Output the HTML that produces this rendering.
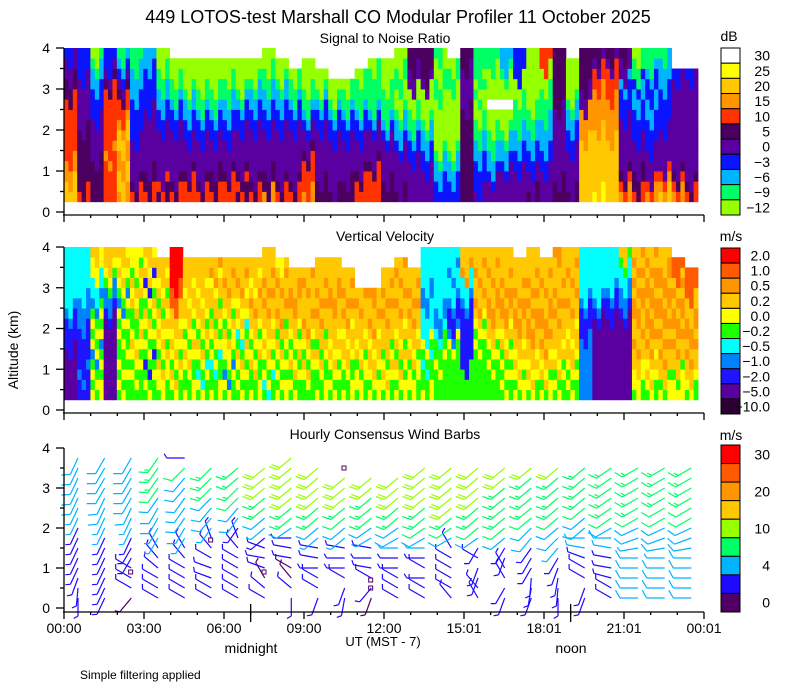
<!DOCTYPE html>
<html><head><meta charset="utf-8"><style>
html,body{margin:0;padding:0;background:#fff;}
svg{display:block;font-family:"Liberation Sans",sans-serif;}
</style></head><body>
<svg id="chart" width="800" height="700" viewBox="0 0 800 700" xmlns="http://www.w3.org/2000/svg">
<text x="398" y="23" font-size="18" text-anchor="middle">449 LOTOS-test Marshall CO Modular Profiler 11 October 2025</text>
<text x="385" y="43" font-size="14" text-anchor="middle">Signal to Noise Ratio</text>
<text x="385" y="241" font-size="14" text-anchor="middle">Vertical Velocity</text>
<text x="385" y="439" font-size="14" text-anchor="middle">Hourly Consensus Wind Barbs</text>
<text x="18" y="350" font-size="14" text-anchor="middle" transform="rotate(-90 18 350)">Altitude (km)</text>
<text x="729" y="41" font-size="14" text-anchor="middle">dB</text>
<text x="731" y="241" font-size="14" text-anchor="middle">m/s</text>
<text x="731" y="440" font-size="14" text-anchor="middle">m/s</text>
<text x="383" y="646" font-size="13" text-anchor="middle">UT  (MST - 7)</text>
<text x="251" y="653" font-size="14" text-anchor="middle">midnight</text>
<text x="571" y="653" font-size="14" text-anchor="middle">noon</text>
<text x="80" y="679" font-size="12">Simple filtering applied</text>
<g id="g"></g>
</svg>
<script>
// ---------- data ----------
const snrClasses = ['L','G','C','B','P','D','R','O','A','Y'];
const snrColors = ['#96ff00','#00ff64','#00b4ff','#0a14ff','#5a00a0','#4b0060','#ff3200','#ff9600','#ffc800','#ffff00','#ffffff'];
const snrTicks = ['30','25','20','15','10','5','0','-3','-6','-9','-12'];
const snrCols = [
"AAOORRRRRRDDPPB","RDDDDDDPPPPPBBB","DDDDPPPPBBBCCGL","RRRRORRRRRRDPBB","OAAOOAAORRDPBCG","RDPPPPBBBBCCCGG",
"RDDPPPPPPBBBBCC","DRPPPPPBBCCGGLL","RDPPPPPBBCGGLL.","RRDPPPBBCCGLLL.","RDPPPPBBCGGLLL.","RDDPPPBBCGGLLL.",
"RRDPPPBBCCGGLL.","DRDPPPPBBCGLLL.","RDPPPPPBBCCGLL.","ODDPPPPBBCCGGLL","RDPPPPPBBCCGLL.","RDPPPPPBBCGGL..",
"ORRRDPPBCGGLLL.","DDPPPPPBBCGLL..","DPPPPPBBCGLL...","DDPPPPBBCGGL...","RRDPPPBBCGGGL..","RRRDPPPBCGGGGL.",
"DDPPPPBCGGGLLL.","DPPPPBCCGLLGGLL","PPPPBBCGGLLPPDD","PPPBBCCGLLLPDDD","BBCCGLLLLLGGLLG","BBCCGLLLLLLGGL.",
"DDDDDDDDDPPPPDD","PBBBCCGGLLGLGGG","PPBCCGGLL.LLLGG","PPPBCCGLL.LLGCC","PPPBBCCGGGLLBBB","DPPBBCCGGLLLLLL",
"PPPBBCCCGGGLLRR","DDPPPPPPPDDDDDD","DPPPPBBCCGLLLL.","AAAAAAOOOPPDDDD","YAAAAAAOOOORRPD","AAAAAAOOOORRRPD",
"ORDPPPPPBBBCPPD","RDDPPPBBBCCBGGL","ORPPPBBBCCBBCGG","AORPPPPBBBBCCCG","ORDPPPPPPPPPB..","RDPPPPPPPPPPB.."];
const velClasses = ['K','V','N','M','C','G','Y','A','O','Q','R'];
const velColors = ['#2d0032','#5a00a0','#1e14ff','#0082ff','#00ffff','#1eff00','#ffff00','#ffc800','#ff9600','#ff5a00','#ff0000'];
const velTicks = ['2.0','1.0','0.5','0.2','0.0','-0.2','-0.5','-1.0','-2.0','-5.0','-10.0'];
const velCols = [
"VVVVVNNNMCCCCCC","NNMNNNNMMMCCCCC","YGYGMYGYGMCCYYA","VVVVVVVVNMMGYAA","GYGYGGYGYMGYAYA","GGYGYAYGGAYAGYY",
"GYGNGYGYAGYNAYA","GYYAGYAYAGAYAA.","GYAGYAYAAQQRRRR","YGGYAYGYAAYAAA.","GYCGYAGYAAYAAA.","YGGCYGYAGAAYOA.",
"GYMGYYAGYAAOAA.","GYGYAGCYAYAOAA.","YGGAYGYAAOAYAA.","GCYGYAYAAOAOAAA","YGYGYAGAOAAOAY.","GYGAYGYAAOOAA..",
"GGYAGYAOAAAOA..","YGGYAGAAOAOAAA.","GYGYAYAAAOOAAA.","YGGYAAYAOAOAA..","GYYGAYAAAOA....","YGYAAYAOAAO....",
"GYAYGAAAOAOAA..","YGYAGAYAAOAAOA.","GYYGAYAAOAOAA..","YGGCGYCCCMMCCCC","GGGYGGCMMCCCCCC","GGGGGYMNNMCCMCC",
"GGGNNNNNNMCCOAA","GGGGGYGYAOAAOAA","GGGYGYAAOOAAOAA","GYGYGAYAOOAOAAA","YGYAYAAOOAOAAA.","GYAYAAOOAOAOAAA",
"YGAYAOAOOAAOAA.","GYGAYAAAOAOAAAO","GYGYAAYAAOAAOAA","MMMMMMNNNMCCCCC","VVVVVVVVNMCCCCC","VVVVVVVVNNMCCCC",
"VVVVVVVVNMMCCGA","GYYAAOAAOOAOAOA","GYAYAOAOOAOOAOA","YGAAOAOAOOAOOAA","YYGAAOAOOAOAQQ.","GYAAOAOOAAQQQ.."];
const windLevels = [0.25,0.5,0.75,1.0,1.25,1.5,1.75,2.0,2.25,2.5,2.75,3.0,3.25,3.5,3.75];
const windSpd = [
[2,2,2,3,3,3,3,3,4,4,5,5,5,6,6],[3,3,3,3,3,3,3,4,4,5,5,5,5,6,6],[1,2,2,2,3,3,3,4,4,5,5,5,6,6,6],
[2,2,2,2,3,3,4,4,5,5,6,7,8,8,8],[2,2,2,3,3,3,4,5,5,5,6,6,6,7,3],[3,3,3,2,2,3,3,4,5,6,6,8,8,8,-1],
[2,2,2,2,3,3,3,3,5,6,7,8,8,9,-1],[2,2,1,2,3,3,3,4,6,8,9,10,11,11,-1],[2,2,1,1,2,3,3,6,8,9,10,11,12,12,12],
[2,2,2,3,3,3,4,6,8,9,11,11,12,12,-1],[2,2,2,3,3,3,4,6,7,9,10,11,11,-1,-1],[1,2,2,2,3,3,4,6,8,9,9,10,11,-1,-1],
[2,2,2,3,3,4,5,6,8,9,10,11,11,-1,-1],[2,2,3,3,3,4,5,7,8,9,10,11,11,11,-1],[2,2,3,2,2,3,5,7,9,10,11,11,11,11,-1],
[2,2,2,2,2,3,5,7,9,9,10,10,11,11,-1],[2,2,2,2,3,3,5,7,8,9,9,9,10,10,-1],[2,2,3,3,3,3,5,6,7,8,9,9,9,10,-1],
[3,3,3,3,3,4,5,6,7,8,8,9,9,10,-1],[2,3,3,3,3,4,4,5,6,7,8,8,8,9,-1],[3,3,3,3,3,4,5,6,7,8,8,9,9,9,-1],
[5,5,5,5,5,4,5,6,7,8,8,9,9,9,-1],[5,5,5,5,4,5,5,6,7,7,8,8,9,9,-1],[5,5,5,5,5,5,5,6,7,7,8,8,8,8,-1]];
const windDir = [
[180,185,200,205,205,205,205,205,205,205,205,205,205,205,205],[205,205,205,205,205,205,205,205,205,205,205,210,210,210,210],
[220,300,300,300,210,210,205,205,205,205,210,210,210,210,210],[300,300,300,310,320,330,210,210,210,210,215,215,215,215,215],
[300,300,300,300,320,330,210,210,215,215,215,220,220,225,270],[300,300,290,290,300,320,340,215,220,220,225,225,225,225,0],
[300,300,300,300,300,320,340,215,215,220,225,225,230,230,0],[300,310,330,290,280,290,230,230,230,230,230,230,230,230,0],
[180,310,320,300,280,280,270,235,230,230,230,230,230,230,230],[200,300,300,270,280,280,230,230,230,230,230,230,230,230,0],
[190,200,300,270,270,280,230,230,230,230,230,230,230,0,0],[200,220,300,280,270,280,240,235,230,230,230,230,230,0,0],
[300,300,300,270,270,270,240,235,230,230,230,230,230,0,0],[300,300,270,300,270,270,240,235,230,230,230,230,230,230,0],
[320,300,300,300,300,330,240,235,230,230,230,230,230,230,0],[330,320,200,200,300,210,235,230,230,230,230,230,230,230,0],
[200,210,330,330,200,210,230,230,230,230,230,230,230,230,0],[200,190,185,210,210,215,220,225,230,230,230,230,230,230,0],
[180,185,190,200,210,220,225,230,230,230,230,230,230,230,0],[200,200,300,300,290,280,270,230,230,230,230,230,230,230,0],
[300,300,285,280,280,280,270,240,235,235,235,235,235,235,0],[270,270,270,270,270,260,250,245,240,240,240,240,240,240,0],
[270,270,270,270,270,260,250,245,240,240,240,240,240,240,0],[270,270,270,270,270,260,250,245,240,240,240,240,240,240,0]];
const windBins = [2,4,7,10,15,20,25,30];
const windColors = ['#500064','#1e0aff','#00b4ff','#00ff64','#96ff00','#ffc800','#ff9600','#ff5a00','#ff0000'];
const windTickLabels = ['30','20','10','4','0'];
const windTickCells = [0,2,4,6,8];
const markerHours = [2.5,5.5,7.5,10.5,11.5,11.5];
const markerHeights = [0.9,1.7,0.9,3.5,0.7,0.5];
const timeLabels = ['00:00','03:00','06:00','09:00','12:00','15:01','18:01','21:01','00:01'];

// ---------- layout ----------
const NS='http://www.w3.org/2000/svg';
const g=document.getElementById('g');
const X0=64, X1=704;
const xT=h=>X0+(X1-X0)*h/24;
const panels=[{z:212,t:48,ax:215},{z:410,t:247,ax:413},{z:608,t:448,ax:612}];
const yP=(p,km)=>p.z-(p.z-p.t)*km/4;
function mk(tag,attrs,parent){const e=document.createElementNS(NS,tag);for(const k in attrs)e.setAttribute(k,attrs[k]);(parent||g).appendChild(e);return e;}

// heatmaps: each column split in 3 sub-stripes mixing adjacent range gates for texture
function heat(cols,classes,colors,p,name){
  const grp=mk('g',{});
  
  
  const n=cols.length, w=(698-X0)/n, sw=w/3, shifts=[0,1,-1];
  cols.forEach((s,ci)=>{
    for(let sub=0;sub<3;sub++){
      for(let r=0;r<s.length;r++){
        let ch=s[r];
        const alt=s[r+shifts[sub]];
        if(ch!=='.' && alt && alt!=='.') ch=alt;
        const k=classes.indexOf(ch); if(k<0)continue;
        const y1=yP(p,0.25+0.25*(r+1)), y0=yP(p,0.25+0.25*r);
        const e=mk('rect',{x:(X0+ci*w+sub*sw).toFixed(2),y:y1.toFixed(2),width:(sw+0.4).toFixed(2),height:(y0-y1+0.4).toFixed(2),fill:colors[k]},grp);
        
        
      }
    }
  });
}
heat(snrCols,snrClasses,snrColors,panels[0],'snr-heatmap');
heat(velCols,velClasses,velColors,panels[1],'velocity-heatmap');

// wind barbs
const wg=mk('g',{'stroke-width':1.2,fill:'none'});


function wcol(s){let i=0;while(i<windBins.length&&s>=windBins[i])i++;return windColors[i];}
const rad=d=>d*Math.PI/180;
windSpd.forEach((row,h)=>{
  row.forEach((s,i)=>{
    if(s<0)return;
    const d=windDir[h][i], c=wcol(s);
    const bx=xT(h)+14, by=yP(panels[2],windLevels[i]);
    const L=18, ex=bx+L*Math.sin(rad(d)), ey=by-L*Math.cos(rad(d));
    const b=mk('path',{stroke:c},wg);
    
    
    let dp=`M${bx.toFixed(1)} ${by.toFixed(1)}L${ex.toFixed(1)} ${ey.toFixed(1)}`;
    let full=Math.floor(s/5), half=(s%5)>=2.5?1:0; if(full+half===0)half=1;
    const fa=rad(d+60);
    let k=0;
    const feather=(len)=>{
      const px=ex-3*k*Math.sin(rad(d)), py=ey+3*k*Math.cos(rad(d));
      dp+=`M${px.toFixed(1)} ${py.toFixed(1)}L${(px+len*Math.sin(fa)).toFixed(1)} ${(py-len*Math.cos(fa)).toFixed(1)}`;k++;
    };
    for(let f=0;f<full;f++)feather(9);
    if(half)feather(5);
    b.setAttribute('d',dp);
  });
});
markerHours.forEach((h,i)=>{
  const e=mk('rect',{x:xT(h)-2,y:yP(panels[2],markerHeights[i])-2,width:4,height:4,fill:'none',stroke:'#500064','stroke-width':1},wg);
  
  
});

// axes
panels.forEach((p,pi)=>{
  const ax=mk('g',{stroke:'#000','stroke-width':1.3});
  
  
  mk('line',{x1:X0,y1:p.t,x2:X0,y2:p.ax},ax);
  mk('line',{x1:X0-1,y1:p.ax,x2:X1,y2:p.ax},ax);
  for(let v=0;v<=8;v++){
    const y=yP(p,v/2), len=v%2?4:8;
    mk('line',{x1:X0-len,y1:y,x2:X0,y2:y},ax);
    if(v%2===0){
      const t=mk('text',{x:50,y:y+5,'font-size':14,'text-anchor':'end',stroke:'none',fill:'#000'},ax);
      t.textContent=v/2;
      
      
    }
  }
  for(let h=0;h<=24;h++){
    const len=h%3?3:7;
    mk('line',{x1:xT(h),y1:p.ax,x2:xT(h),y2:p.ax+len},ax);
  }
  if(pi===2){
    mk('line',{x1:xT(7),y1:p.ax-8,x2:xT(7),y2:p.ax+10},ax);
    mk('line',{x1:xT(19),y1:p.ax-8,x2:xT(19),y2:p.ax+10},ax);
  }
});
timeLabels.forEach((s,i)=>{
  const t=mk('text',{x:xT(i*3),y:633,'font-size':14,'text-anchor':'middle'});
  t.textContent=s;
  
  
});

// colorbars
function cbar(colorsTopDown,labels,labelCells,top,bot,name){
  const grp=mk('g',{});
  
  
  const n=colorsTopDown.length,h=(bot-top)/n;
  colorsTopDown.forEach((c,i)=>{
    const r=mk('rect',{x:721,y:top+i*h,width:19,height:h,fill:c,stroke:'#000','stroke-width':1},grp);
    
    
  });
  labels.forEach((s,i)=>{
    const t=mk('text',{x:770,y:top+(labelCells[i]+0.5)*h+5,'font-size':14,'text-anchor':'end'},grp);
    t.textContent=s.replace('-','\u2212');
    
    
  });
}
const idx11=[0,1,2,3,4,5,6,7,8,9,10];
cbar(['#ffffff','#ffff00','#ffc800','#ff9600','#ff3200','#4b0060','#5a00a0','#0a14ff','#00b4ff','#00ff64','#96ff00'],snrTicks,idx11,48,215,'snr-colorbar');
cbar(velColors.slice().reverse(),velTicks,idx11,248,414,'velocity-colorbar');
cbar(windColors.slice().reverse(),windTickLabels,windTickCells,445,612,'wind-colorbar');
</script>
</body></html>
